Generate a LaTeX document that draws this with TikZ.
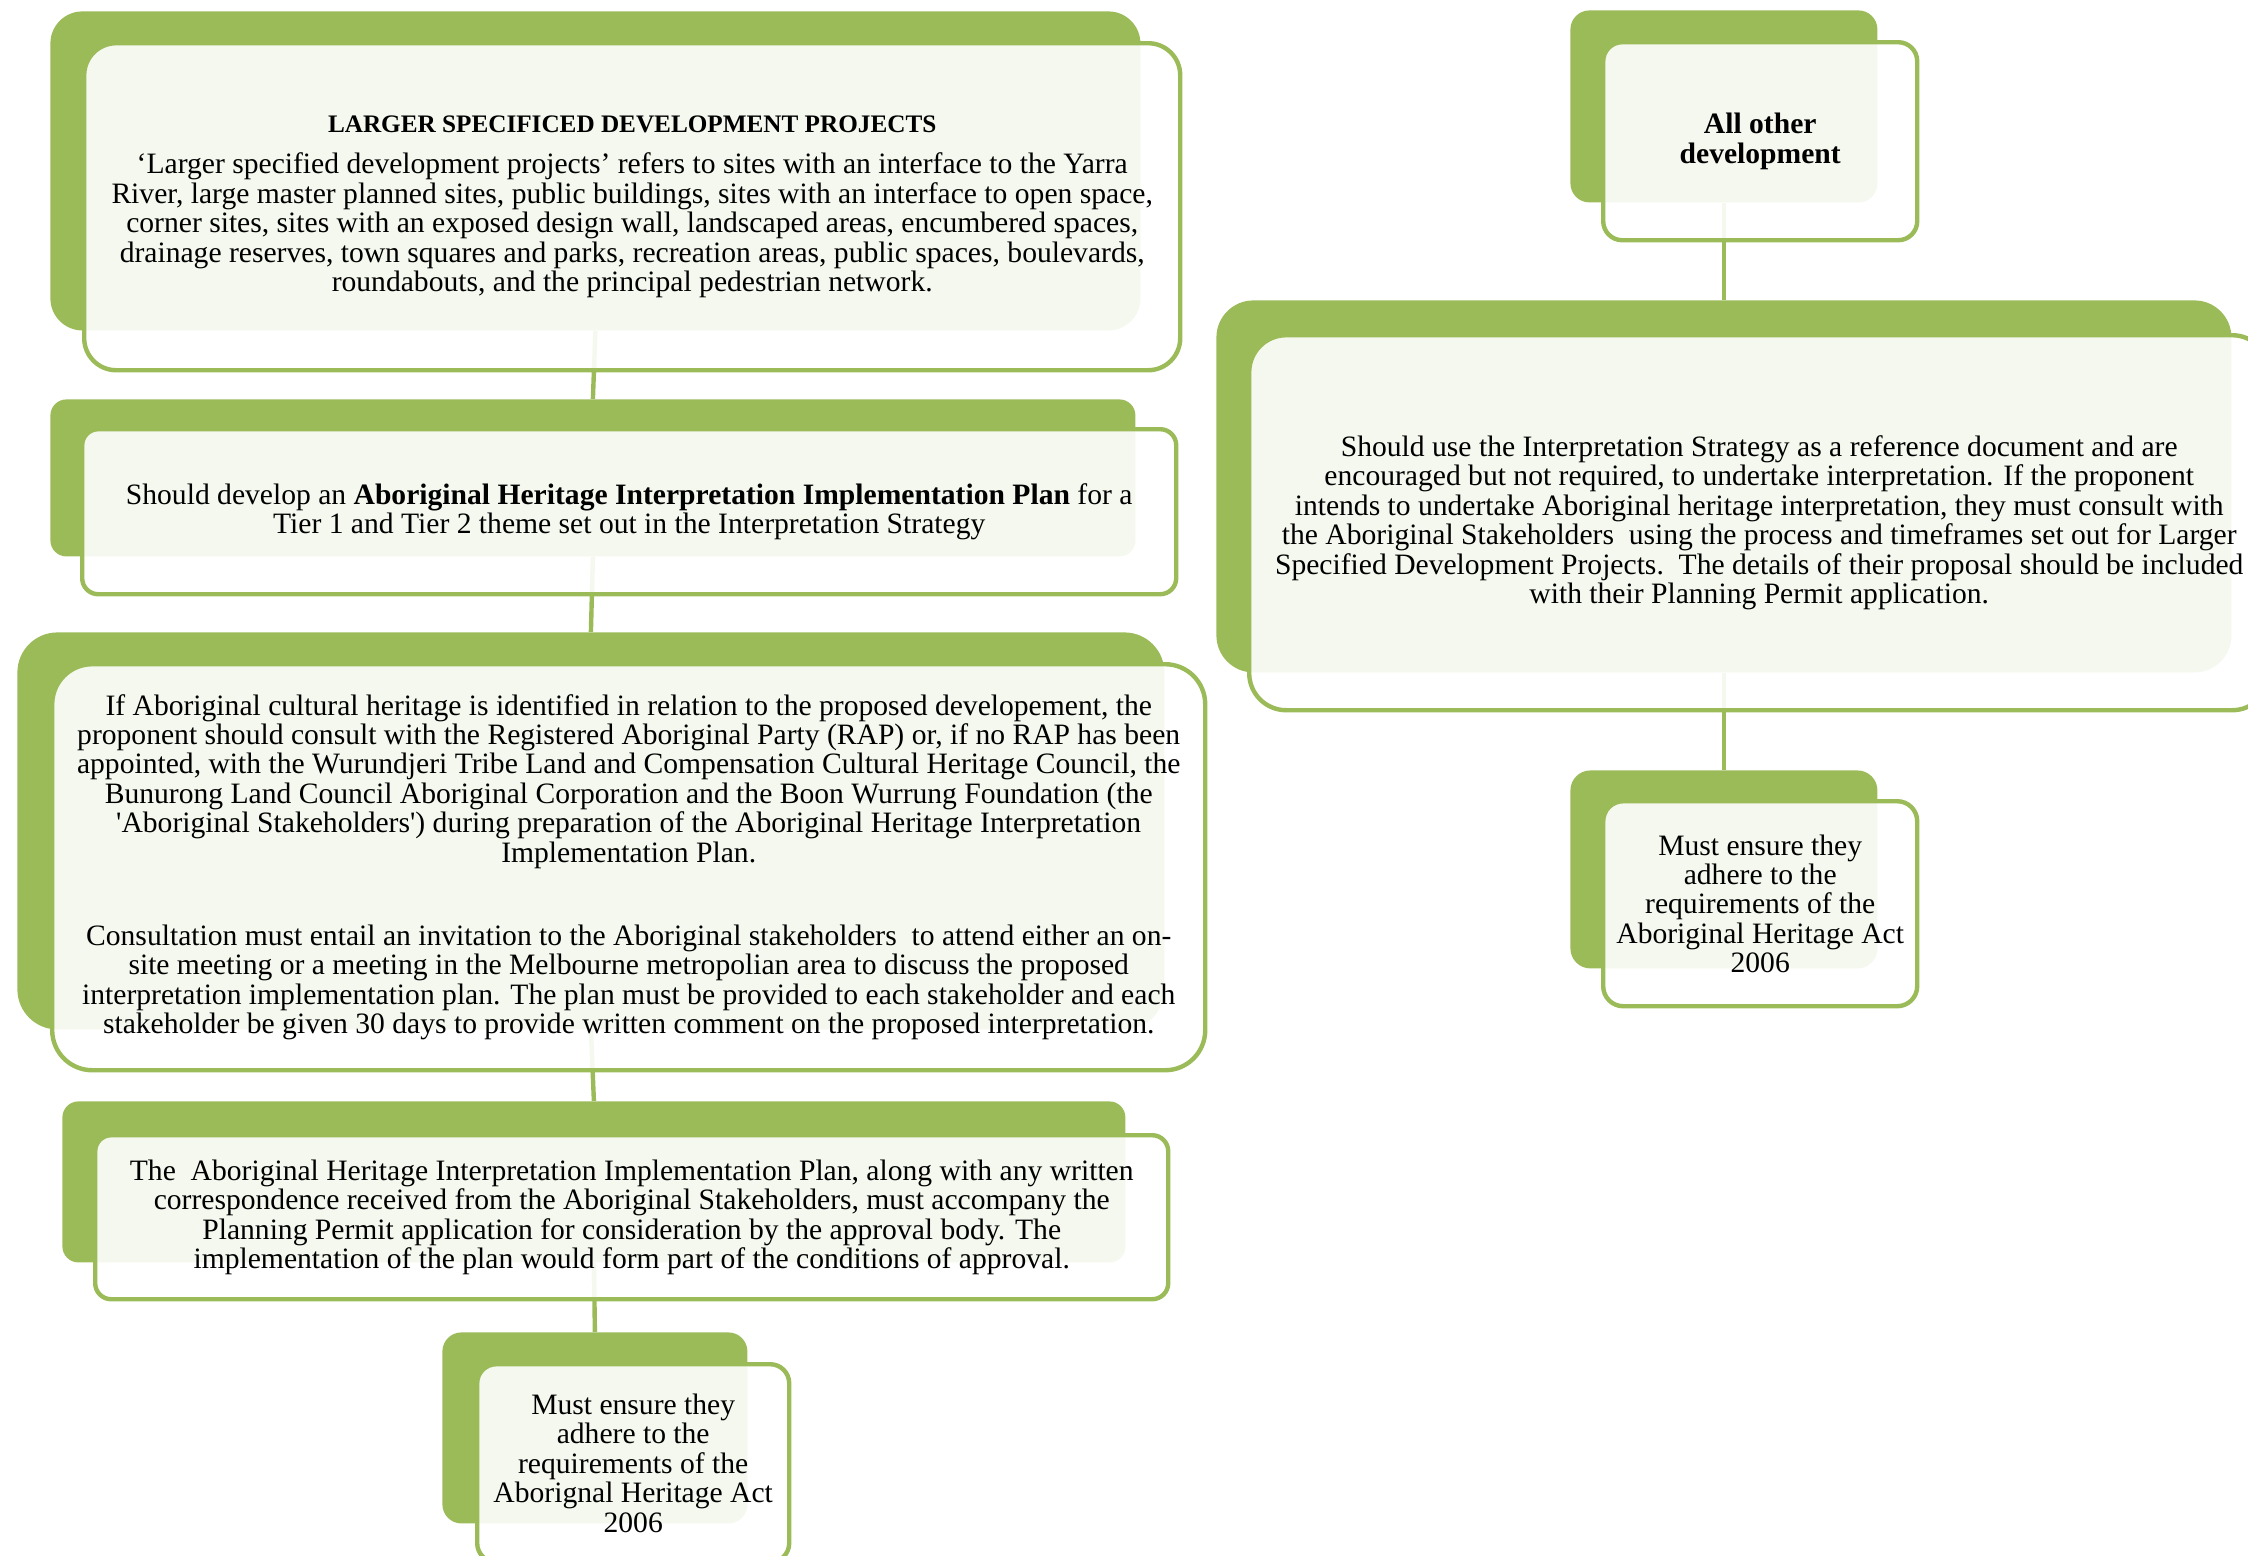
\documentclass[tikz,border=0pt]{standalone}
\usepackage{fontspec}
\setmainfont{Liberation Serif}
\usepackage{tikz}
\usetikzlibrary{positioning}
\definecolor{ctab}{RGB}{155,187,89}

\begin{document}
\begin{tikzpicture}[
  x=1pt, y=1pt,
  font=\fontsize{14.8}{14.7}\selectfont,
  tab/.style={fill=ctab, rounded corners=#1, anchor=north west, inner sep=0pt},
  card/.style={draw=ctab, line width=2.2pt, fill=white, fill opacity=0.9, text opacity=1,
    rounded corners=#1, align=center, inner sep=2pt},
  link/.style={draw=ctab, line width=2.2pt},
]
\useasboundingbox (0,0) rectangle (1124,-777.5);

% ---- green tabs behind the cards ----
\node[tab=16pt, minimum width=545pt, minimum height=159.5pt] (tab1) at (25,-5.5) {};
\node[tab=8pt, minimum width=542.5pt, minimum height=78.5pt] (tab2) at (25,-199.5) {};
\node[tab=20pt, minimum width=573.5pt, minimum height=198.5pt] (tab3) at (8.5,-316) {};
\node[tab=8pt, minimum width=531.5pt, minimum height=80.5pt] (tab4) at (31,-550.5) {};
\node[tab=9.5pt, minimum width=152.5pt, minimum height=95.5pt] (tab5) at (221,-666) {};
\node[tab=9.5pt, minimum width=153.5pt, minimum height=96pt] (tab6) at (785,-5) {};
\node[tab=18.5pt, minimum width=507.5pt, minimum height=186pt] (tab7) at (608,-150) {};
\node[tab=10pt, minimum width=153.5pt, minimum height=99pt] (tab8) at (785,-385) {};

% ---- connectors (run under the cards) ----
\draw[link] (tab1.south) -- (tab2.north);
\draw[link] (tab2.south) -- (tab3.north);
\draw[link] (tab3.south) -- (tab4.north);
\draw[link] (tab4.south) -- (tab5.north);
\draw[link] (tab6.south) -- (tab7.north);
\draw[link] (tab7.south) -- (tab8.north);

% ---- left column: larger specified projects ----
\node[card=16pt, minimum width=548pt, minimum height=163.5pt, below right=15pt and 16pt of tab1.north west] (larger)
  {{\fontsize{12.6}{14.7}\selectfont\textbf{LARGER SPECIFICED DEVELOPMENT PROJECTS}}\\[6pt]
   ‘Larger specified development projects’ refers to sites with an interface to the Yarra\\
   River, large master planned sites, public buildings, sites with an interface to open space,\\
   corner sites, sites with an exposed design wall, landscaped areas, encumbered spaces,\\
   drainage reserves, town squares and parks, recreation areas, public spaces, boulevards,\\
   roundabouts, and the principal pedestrian network.};
\node[card=8pt, minimum width=547pt, minimum height=82.5pt, below right=14pt and 15pt of tab2.north west] (plan)
  {Should develop an \textbf{Aboriginal Heritage Interpretation Implementation Plan} for a\\
   Tier 1 and Tier 2 theme set out in the Interpretation Strategy};
\node[card=20pt, minimum width=576.5pt, minimum height=203pt, below right=15pt and 16.5pt of tab3.north west] (consult)
  {If Aboriginal cultural heritage is identified in relation to the proposed developement, the\\
   proponent should consult with the Registered Aboriginal Party (RAP) or, if no RAP has been\\
   appointed, with the Wurundjeri Tribe Land and Compensation Cultural Heritage Council, the\\
   Bunurong Land Council Aboriginal Corporation and the Boon Wurrung Foundation (the\\
   \textquotesingle Aboriginal Stakeholders\textquotesingle) during preparation of the Aboriginal Heritage Interpretation\\
   Implementation Plan.\\[27pt]
   Consultation must entail an invitation to the Aboriginal stakeholders\ \ to attend either an on-\\
   site meeting or a meeting in the Melbourne metropolian area to discuss the proposed\\
   interpretation implementation plan. The plan must be provided to each stakeholder and each\\
   stakeholder be given 30 days to provide written comment on the proposed interpretation.};
\node[card=8pt, minimum width=536.5pt, minimum height=82pt, below right=16pt and 15.5pt of tab4.north west] (submit)
  {The\ \ Aboriginal Heritage Interpretation Implementation Plan, along with any written\\
   correspondence received from the Aboriginal Stakeholders, must accompany the\\
   Planning Permit application for consideration by the approval body. The\\
   implementation of the plan would form part of the conditions of approval.};
\node[card=9.5pt, minimum width=156pt, minimum height=99pt, below right=15pt and 16.5pt of tab5.north west] (act)
  {Must ensure they\\adhere to the\\requirements of the\\Aborignal Heritage Act\\2006};

% ---- right column: all other development ----
\node[card=9.5pt, minimum width=157pt, minimum height=99pt, below right=15pt and 15.5pt of tab6.north west] (other)
  {\textbf{All other}\\\textbf{development}};
\node[card=18.5pt, minimum width=510pt, minimum height=187.5pt, below right=16.5pt and 15.5pt of tab7.north west] (optional)
  {Should use the Interpretation Strategy as a reference document and are\\
   encouraged but not required, to undertake interpretation. If the proponent\\
   intends to undertake Aboriginal heritage interpretation, they must consult with\\
   the Aboriginal Stakeholders\ \ using the process and timeframes set out for Larger\\
   Specified Development Projects.\ \ The details of their proposal should be included\\
   with their Planning Permit application.};
\node[card=10pt, minimum width=157pt, minimum height=102.5pt, below right=14.5pt and 15.5pt of tab8.north west] (actright)
  {Must ensure they\\adhere to the\\requirements of the\\Aboriginal Heritage Act\\2006};
\end{tikzpicture}
\end{document}
